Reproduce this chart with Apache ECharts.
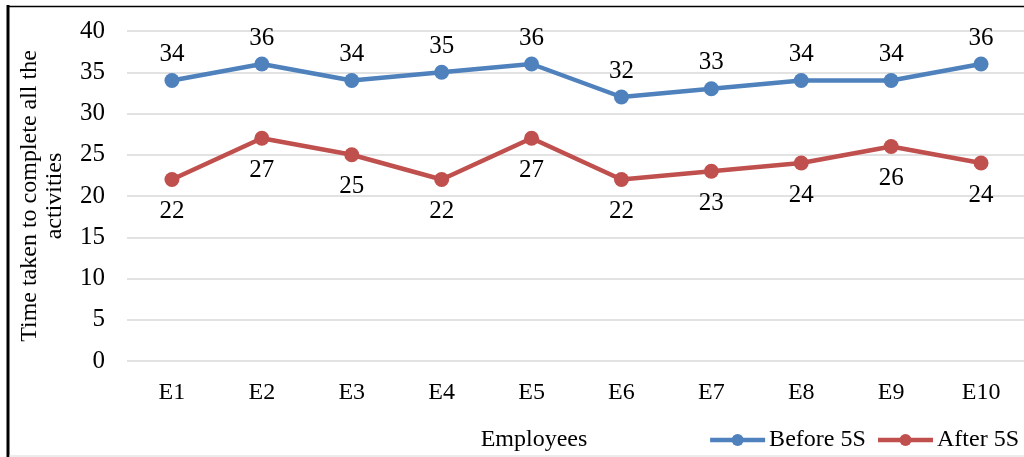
<!DOCTYPE html>
<html>
<head>
<meta charset="utf-8">
<script src="https://cdn.jsdelivr.net/npm/echarts@6/dist/echarts.min.js"></script>
<style>html,body{margin:0;padding:0;background:#fff;}#c{width:1024px;height:457px;}</style>
</head>
<body>
<div id="c"></div>
<script>
const categories = ['E1','E2','E3','E4','E5','E6','E7','E8','E9','E10'];
const before5S = [34,36,34,35,36,32,33,34,34,36];
const after5S = [22,27,25,22,27,22,23,24,26,24];
const yTicks = {min: 0, max: 40, interval: 5};

const FONT = '"Liberation Serif", "Times New Roman", serif';
const chart = echarts.init(document.getElementById('c'));
chart.setOption({
  animation: false,
  textStyle: {fontFamily: FONT},
  graphic: [
    {type: 'line', shape: {x1: 8, y1: 5, x2: 8, y2: 457}, style: {stroke: '#000', lineWidth: 3}},
    {type: 'line', shape: {x1: 7, y1: 6.5, x2: 1024, y2: 6.5}, style: {stroke: '#000', lineWidth: 1.5}},
    {type: 'line', shape: {x1: 9, y1: 456, x2: 1024, y2: 456}, style: {stroke: '#d9d9d9', lineWidth: 1}}
  ],
  title: {
    text: 'Employees', left: 529, top: 423, textAlign: 'center',
    textStyle: {fontFamily: FONT, fontSize: 24, fontWeight: 'normal', color: '#000'}
  },
  legend: {
    right: 0, top: 423,
    itemWidth: 55, itemHeight: 15, itemGap: 10,
    lineStyle: {width: 4.5},
    textStyle: {fontFamily: FONT, fontSize: 24, color: '#000', padding: [0, 0, 0, -1]},
    data: ['Before 5S', 'After 5S']
  },
  grid: {left: 127, right: -2, top: 31, bottom: 96, containLabel: false, outerBoundsMode: 'none'},
  xAxis: {
    type: 'category', data: categories, boundaryGap: true,
    axisLine: {show: false}, axisTick: {show: false},
    axisLabel: {fontFamily: FONT, fontSize: 24, color: '#000', margin: 20}
  },
  yAxis: {
    type: 'value', min: yTicks.min, max: yTicks.max, interval: yTicks.interval,
    name: 'Time taken to complete all the\nactivities',
    nameLocation: 'middle', nameGap: 60, nameRotate: 90,
    nameTextStyle: {fontFamily: FONT, fontSize: 24, color: '#000', lineHeight: 25, align: 'center'},
    axisLine: {show: false}, axisTick: {show: false},
    axisLabel: {fontFamily: FONT, fontSize: 25, color: '#000', margin: 22},
    splitLine: {lineStyle: {color: '#d9d9d9', width: 1.5}}
  },
  series: [
    {
      name: 'Before 5S', type: 'line', data: before5S,
      symbol: 'circle', symbolSize: 15,
      lineStyle: {width: 4.5, color: '#4F81BD'}, itemStyle: {color: '#4F81BD'},
      label: {show: true, position: 'top', distance: 6, fontFamily: FONT, fontSize: 25, color: '#000'}
    },
    {
      name: 'After 5S', type: 'line', data: after5S,
      symbol: 'circle', symbolSize: 15,
      lineStyle: {width: 4.5, color: '#C0504D'}, itemStyle: {color: '#C0504D'},
      label: {show: true, position: 'bottom', distance: 12, fontFamily: FONT, fontSize: 25, color: '#000'}
    }
  ]
});
</script>
</body>
</html>
